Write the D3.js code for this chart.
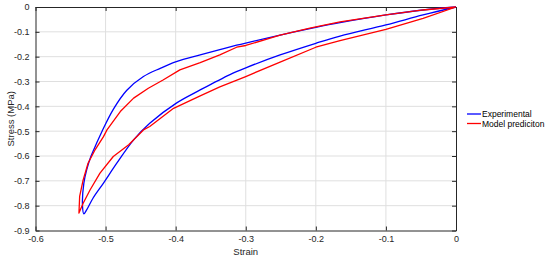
<!DOCTYPE html>
<html><head><meta charset="utf-8">
<script src="https://cdn.jsdelivr.net/npm/d3@7/dist/d3.min.js"></script>
<style>body{margin:0;background:#fff}svg{display:block}text{font-family:"Liberation Sans",Arial,sans-serif}</style>
</head><body><svg id="c" width="550" height="260"></svg>
<script>
// Experimental loop: loading branch (origin -> tip), then unloading branch (tip -> origin)
const expStrain = [0,-0.047,-0.1,-0.1655,-0.2,-0.251,-0.3,-0.3225,-0.365,-0.399,-0.437,-0.460,-0.484,-0.503,-0.518,-0.527,-0.531,
  -0.533,-0.531,-0.527,-0.521,-0.513,-0.505,-0.489,-0.470,-0.446,-0.422,-0.399,-0.365,-0.337,-0.313,-0.3,-0.251,-0.2,-0.1655,-0.1,-0.047,0];
const expStress = [0,-0.032,-0.072,-0.117,-0.146,-0.193,-0.245,-0.272,-0.334,-0.387,-0.468,-0.535,-0.629,-0.709,-0.770,-0.817,-0.833,
  -0.796,-0.709,-0.656,-0.602,-0.550,-0.500,-0.412,-0.336,-0.280,-0.247,-0.220,-0.193,-0.172,-0.154,-0.145,-0.113,-0.082,-0.063,-0.032,-0.012,0];
// Model prediction loop
const modStrain = [0,-0.047,-0.1,-0.1655,-0.2,-0.251,-0.3,-0.337,-0.365,-0.403,-0.437,-0.446,-0.467,-0.489,-0.508,-0.522,-0.532,-0.538,
  -0.537,-0.532,-0.525,-0.515,-0.503,-0.498,-0.479,-0.460,-0.439,-0.418,-0.394,-0.365,-0.337,-0.313,-0.3,-0.251,-0.21,-0.2,-0.1655,-0.1,-0.047,0];
const modStress = [0,-0.046,-0.090,-0.135,-0.162,-0.222,-0.280,-0.322,-0.358,-0.408,-0.481,-0.495,-0.555,-0.602,-0.669,-0.736,-0.790,-0.830,
  -0.763,-0.696,-0.629,-0.575,-0.522,-0.495,-0.421,-0.367,-0.327,-0.294,-0.253,-0.224,-0.193,-0.162,-0.155,-0.113,-0.086,-0.080,-0.060,-0.032,-0.012,0];
const xTicks = [-0.6,-0.5,-0.4,-0.3,-0.2,-0.1,0];
const yTicks = [0,-0.1,-0.2,-0.3,-0.4,-0.5,-0.6,-0.7,-0.8,-0.9];
const seriesNames = ["Experimental","Model prediciton"];
const seriesColors = ["#0000ff","#ff0000"];

const svg = d3.select("#c");
const L=35.5, R=456, T=7, B=230.5;
const x = d3.scaleLinear().domain([-0.6,0]).range([L,R]);
const y = d3.scaleLinear().domain([-0.9,0]).range([B,T]);
const axisCol = "#262626";
const fmt = d => d===0 ? "0" : (d<0?"-":"") + Math.abs(d).toFixed(1);

// grid
svg.append("g").selectAll("line").data(xTicks.slice(1,-1)).join("line")
  .attr("x1",d=>x(d)).attr("x2",d=>x(d)).attr("y1",T).attr("y2",B)
  .attr("stroke","#dfdfdf").attr("stroke-width",1);
svg.append("g").selectAll("line").data(yTicks.slice(1,-1)).join("line")
  .attr("y1",d=>y(d)).attr("y2",d=>y(d)).attr("x1",L).attr("x2",R)
  .attr("stroke","#dfdfdf").attr("stroke-width",1);

// axes
const xb = svg.append("g").attr("transform",`translate(0,${B})`)
  .call(d3.axisBottom(x).tickValues(xTicks).tickFormat(fmt).tickSizeInner(-4).tickSizeOuter(0).tickPadding(5));
const xt = svg.append("g").attr("transform",`translate(0,${T})`)
  .call(d3.axisTop(x).tickValues(xTicks).tickFormat("").tickSizeInner(-4).tickSizeOuter(0));
const yl = svg.append("g").attr("transform",`translate(${L},0)`)
  .call(d3.axisLeft(y).tickValues(yTicks).tickFormat(fmt).tickSizeInner(-4).tickSizeOuter(0).tickPadding(6));
const yr = svg.append("g").attr("transform",`translate(${R},0)`)
  .call(d3.axisRight(y).tickValues(yTicks).tickFormat("").tickSizeInner(-4).tickSizeOuter(0));
[xb,xt,yl,yr].forEach(g=>{
  g.selectAll("path").attr("stroke",axisCol).attr("stroke-width",1);
  g.selectAll("line").attr("stroke",axisCol);
  g.selectAll("text").attr("fill",axisCol).style("font-size","9px").style("font-family","'Liberation Sans',Arial,sans-serif");
});

// lines
const lineSmooth = d3.line().x(d=>x(d[0])).y(d=>y(d[1])).curve(d3.curveCatmullRom.alpha(0.5));
const lineLin = d3.line().x(d=>x(d[0])).y(d=>y(d[1]));
const series = [d3.zip(expStrain,expStress), d3.zip(modStrain,modStress)];
series.forEach((s,i)=>{
  svg.append("path").datum(s).attr("d", i===0 ? lineSmooth : lineLin).attr("fill","none")
    .attr("stroke",seriesColors[i]).attr("stroke-width",1.3).attr("stroke-linejoin","round");
});

// labels
svg.append("text").attr("x",(L+R)/2).attr("y",255).attr("text-anchor","middle")
  .attr("fill",axisCol).style("font-size","9.5px").text("Strain");
svg.append("text").attr("transform",`translate(14,${(T+B)/2}) rotate(-90)`).attr("text-anchor","middle")
  .attr("fill",axisCol).style("font-size","9.5px").text("Stress (MPa)");

// legend
const lg = svg.append("g").attr("transform","translate(467,114)");
seriesNames.forEach((n,i)=>{
  lg.append("line").attr("x1",0).attr("x2",14).attr("y1",i*9.5).attr("y2",i*9.5)
    .attr("stroke",seriesColors[i]).attr("stroke-width",1.3);
  lg.append("text").attr("x",15).attr("y",i*9.5+3).attr("fill","#000").style("font-size","8.5px").text(n);
});
</script></body></html>
